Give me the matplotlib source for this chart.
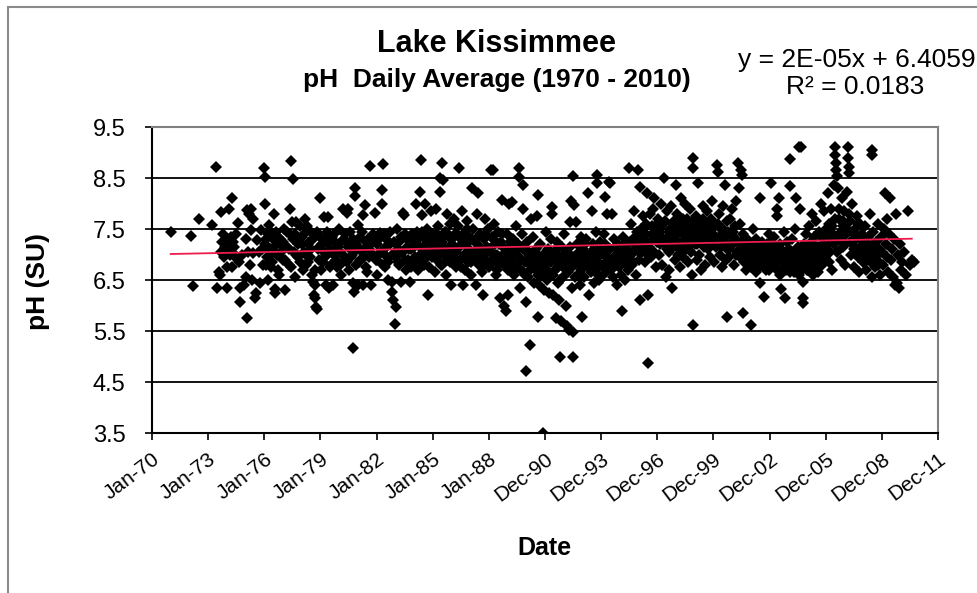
import matplotlib.pyplot as plt
import numpy as np
from matplotlib.patches import Rectangle

plt.rcParams['font.family'] = ['Liberation Sans', 'DejaVu Sans']

tick_years = [1970, 1973, 1976, 1979, 1982, 1985, 1988, 1991, 1994, 1997, 2000, 2003, 2006, 2009, 2012]
tick_labels = ["Jan-70", "Jan-73", "Jan-76", "Jan-79", "Jan-82", "Jan-85", "Jan-88", "Dec-90",
               "Dec-93", "Dec-96", "Dec-99", "Dec-02", "Dec-05", "Dec-08", "Dec-11"]

# (decimal year, pH), grouped by tick interval
ph_70_73 = [(1971.0, 7.45), (1972.07, 7.37), (1972.2, 6.39), (1972.5, 7.69)]

ph_73_76 = [
    (1973.2, 7.58), (1973.4, 8.72), (1973.5, 6.34), (1973.6, 6.66), (1973.65, 6.60), (1973.7, 7.83),
    (1973.7, 7.05), (1973.75, 7.25), (1973.8, 7.40), (1973.85, 6.95), (1973.9, 7.15), (1974.0, 6.75),
    (1974.0, 6.34), (1974.0, 7.30), (1974.05, 7.10), (1974.1, 7.89), (1974.1, 7.20), (1974.15, 7.00),
    (1974.2, 7.35), (1974.25, 6.75), (1974.3, 8.10), (1974.3, 7.05), (1974.35, 7.25), (1974.4, 7.15),
    (1974.45, 6.95), (1974.5, 7.40), (1974.6, 7.62), (1974.65, 6.85), (1974.7, 6.34), (1974.7, 6.07),
    (1974.8, 7.00), (1974.9, 6.40), (1975.0, 7.30), (1975.05, 6.55), (1975.1, 5.75), (1975.1, 7.88),
    (1975.15, 7.05), (1975.2, 7.80), (1975.25, 6.79), (1975.3, 7.90), (1975.3, 7.48), (1975.35, 6.50),
    (1975.4, 7.02), (1975.4, 7.70), (1975.5, 6.15), (1975.55, 6.25), (1975.6, 7.28), (1975.7, 7.05),
    (1975.75, 6.45), (1975.8, 7.48), (1975.9, 7.10), (1975.95, 6.79),
]

ph_76_79 = [
    (1976.0, 8.70), (1976.02, 8.52), (1976.05, 8.00), (1976.1, 7.30), (1976.1, 6.79), (1976.15, 7.10),
    (1976.2, 6.50), (1976.25, 7.58), (1976.3, 7.10), (1976.35, 6.75), (1976.4, 7.43), (1976.5, 7.79),
    (1976.5, 7.28), (1976.55, 6.32), (1976.6, 6.25), (1976.7, 7.00), (1976.75, 7.35), (1976.8, 6.60),
    (1976.9, 7.20), (1977.0, 6.90), (1977.05, 7.50), (1977.1, 6.30), (1977.2, 7.15), (1977.3, 6.80),
    (1977.35, 7.40), (1977.4, 7.90), (1977.45, 8.83), (1977.5, 7.64), (1977.55, 8.49), (1977.6, 7.05),
    (1977.65, 6.55), (1977.7, 7.64), (1977.75, 7.30), (1977.8, 6.95), (1977.9, 7.55), (1978.0, 7.20),
    (1978.05, 6.70), (1978.1, 7.40), (1978.2, 7.70), (1978.25, 7.00), (1978.3, 7.55), (1978.35, 6.85),
    (1978.4, 7.25), (1978.5, 7.45), (1978.55, 6.60), (1978.6, 6.47), (1978.65, 6.20), (1978.7, 6.40),
    (1978.7, 6.15), (1978.75, 5.97), (1978.8, 5.93), (1978.85, 7.10), (1978.9, 6.90),
    (1976.02, 7.20), (1976.12, 6.95), (1976.22, 7.40), (1976.32, 7.00), (1976.42, 6.85), (1976.52, 7.15),
    (1976.62, 7.45), (1976.72, 6.70), (1976.82, 7.30), (1976.92, 7.05), (1977.02, 7.25), (1977.12, 6.90),
    (1977.22, 7.45), (1977.32, 7.10), (1977.42, 6.75), (1977.52, 7.30), (1977.62, 7.40), (1977.72, 7.00),
    (1977.82, 7.20), (1977.92, 6.85), (1978.02, 7.35), (1978.12, 7.05), (1978.22, 6.80), (1978.32, 7.20),
    (1978.42, 6.95), (1978.52, 7.10), (1978.62, 7.30), (1978.72, 6.70), (1978.82, 7.45), (1978.92, 7.15),
]

ph_79_82 = [
    (1979.0, 8.10), (1979.0, 7.35), (1979.05, 6.70), (1979.1, 7.20), (1979.2, 7.73), (1979.25, 6.95),
    (1979.3, 6.40), (1979.35, 7.45), (1979.4, 7.73), (1979.45, 6.35), (1979.5, 7.10), (1979.55, 6.80),
    (1979.6, 7.35), (1979.65, 6.40), (1979.7, 7.00), (1979.8, 7.25), (1979.9, 6.75), (1980.0, 7.50),
    (1980.05, 7.05), (1980.1, 6.60), (1980.2, 7.90), (1980.25, 7.30), (1980.3, 6.90), (1980.4, 7.81),
    (1980.45, 7.15), (1980.5, 7.90), (1980.55, 6.70), (1980.6, 7.45), (1980.7, 7.00), (1980.75, 6.45),
    (1980.76, 5.16), (1980.8, 6.26), (1980.85, 8.30), (1980.85, 8.14), (1980.9, 7.20), (1981.0, 7.58),
    (1981.0, 6.40), (1981.05, 6.85), (1981.1, 7.35), (1981.2, 7.05), (1981.3, 7.77), (1981.3, 6.40),
    (1981.35, 6.95), (1981.4, 7.97), (1981.45, 7.25), (1981.5, 6.65), (1981.6, 7.10), (1981.65, 8.74),
    (1981.7, 6.40), (1981.8, 7.40), (1981.9, 7.81), (1981.95, 6.90),
    (1979.02, 7.10), (1979.12, 6.85), (1979.22, 7.35), (1979.32, 7.00), (1979.42, 7.20), (1979.52, 6.75),
    (1979.62, 7.05), (1979.72, 7.40), (1979.82, 6.90), (1979.92, 7.15), (1980.02, 6.80), (1980.12, 7.25),
    (1980.22, 7.00), (1980.32, 7.40), (1980.42, 6.85), (1980.52, 7.20), (1980.62, 6.95), (1980.72, 7.30),
    (1980.82, 7.05), (1980.92, 6.80), (1981.02, 7.15), (1981.12, 6.90), (1981.22, 7.45), (1981.32, 7.10),
    (1981.42, 6.75), (1981.52, 7.30), (1981.62, 6.95), (1981.72, 7.20), (1981.82, 7.00), (1981.92, 7.35),
]

ph_82_85 = [
    (1982.0, 7.20), (1982.05, 6.60), (1982.1, 7.00), (1982.2, 7.42), (1982.3, 8.26), (1982.3, 8.00),
    (1982.35, 8.77), (1982.4, 7.10), (1982.45, 6.75), (1982.5, 7.30), (1982.55, 6.95), (1982.6, 6.50),
    (1982.7, 7.20), (1982.8, 6.26), (1982.85, 6.46), (1982.9, 6.10), (1982.95, 7.00), (1983.0, 5.63),
    (1983.05, 5.97), (1983.1, 7.51), (1983.15, 6.85), (1983.2, 7.25), (1983.3, 6.46), (1983.35, 7.05),
    (1983.4, 7.82), (1983.45, 7.77), (1983.5, 7.40), (1983.55, 6.70), (1983.6, 7.15), (1983.7, 6.90),
    (1983.75, 7.35), (1983.8, 6.46), (1983.85, 7.10), (1983.9, 6.80), (1984.0, 7.25), (1984.05, 6.95),
    (1984.1, 7.99), (1984.15, 7.45), (1984.2, 6.70), (1984.3, 8.23), (1984.3, 7.15), (1984.35, 6.85),
    (1984.4, 8.85), (1984.45, 7.77), (1984.5, 7.35), (1984.55, 6.90), (1984.6, 7.99), (1984.65, 7.05),
    (1984.7, 7.50), (1984.75, 6.20), (1984.8, 6.75), (1984.85, 7.25), (1984.9, 7.85), (1984.95, 6.95),
    (1982.02, 6.90), (1982.12, 7.30), (1982.22, 7.05), (1982.32, 6.80), (1982.42, 7.40), (1982.52, 7.15),
    (1982.62, 6.85), (1982.72, 7.45), (1982.82, 7.00), (1982.92, 7.25), (1983.02, 6.95), (1983.12, 7.10),
    (1983.22, 6.80), (1983.32, 7.35), (1983.42, 7.05), (1983.52, 6.90), (1983.62, 7.30), (1983.72, 7.10),
    (1983.82, 6.75), (1983.92, 7.40), (1984.02, 7.15), (1984.12, 6.90), (1984.22, 7.30), (1984.32, 7.00),
    (1984.42, 7.45), (1984.52, 6.80), (1984.62, 7.20), (1984.72, 7.05), (1984.82, 7.35), (1984.92, 7.10),
]

ph_85_88 = [
    (1985.0, 7.40), (1985.05, 7.10), (1985.1, 6.65), (1985.15, 7.90), (1985.2, 7.25), (1985.25, 6.90),
    (1985.3, 7.55), (1985.35, 7.00), (1985.4, 8.23), (1985.4, 8.50), (1985.45, 7.30), (1985.5, 8.79),
    (1985.5, 6.80), (1985.55, 8.46), (1985.6, 7.15), (1985.65, 7.45), (1985.7, 6.60), (1985.75, 7.80),
    (1985.8, 7.05), (1985.85, 7.35), (1985.9, 6.85), (1985.95, 7.60), (1986.0, 6.40), (1986.05, 7.20),
    (1986.1, 6.95), (1986.15, 7.70), (1986.2, 7.40), (1986.25, 6.75), (1986.3, 7.10), (1986.35, 7.55),
    (1986.4, 8.70), (1986.45, 6.90), (1986.5, 7.30), (1986.55, 7.85), (1986.6, 6.40), (1986.65, 7.00),
    (1986.7, 7.45), (1986.75, 6.70), (1986.8, 7.20), (1986.85, 7.65), (1986.9, 6.85), (1986.95, 7.35),
    (1987.0, 7.05), (1987.05, 6.60), (1987.1, 8.30), (1987.15, 7.50), (1987.2, 6.95), (1987.25, 7.25),
    (1987.3, 6.40), (1987.35, 7.80), (1987.4, 8.20), (1987.45, 7.10), (1987.5, 6.80), (1987.55, 7.40),
    (1987.6, 7.00), (1987.65, 6.65), (1987.7, 6.20), (1987.75, 7.30), (1987.8, 7.70), (1987.85, 6.90),
    (1987.9, 7.15), (1987.95, 7.50),
    (1985.02, 7.20), (1985.12, 6.95), (1985.22, 7.40), (1985.32, 7.10), (1985.42, 6.80), (1985.52, 7.25),
    (1985.62, 7.00), (1985.72, 7.45), (1985.82, 6.90), (1985.92, 7.15), (1986.02, 7.30), (1986.12, 6.85),
    (1986.22, 7.05), (1986.32, 7.40), (1986.42, 7.15), (1986.52, 6.75), (1986.62, 7.25), (1986.72, 7.00),
    (1986.82, 7.50), (1986.92, 7.10), (1987.02, 6.85), (1987.12, 7.30), (1987.22, 7.05), (1987.32, 6.90),
    (1987.42, 7.35), (1987.52, 7.15), (1987.62, 6.75), (1987.72, 7.00), (1987.82, 7.40), (1987.92, 6.85),
]

ph_88_91 = [
    (1988.0, 6.75), (1988.05, 7.05), (1988.1, 8.66), (1988.15, 7.35), (1988.2, 8.66), (1988.25, 6.90),
    (1988.3, 7.60), (1988.35, 7.20), (1988.4, 6.60), (1988.45, 7.00), (1988.5, 7.45), (1988.55, 6.80),
    (1988.6, 6.15), (1988.65, 7.25), (1988.7, 8.06), (1988.75, 6.95), (1988.8, 6.00), (1988.85, 7.10),
    (1988.9, 5.90), (1988.95, 7.40), (1989.0, 6.20), (1989.05, 6.70), (1989.1, 7.99), (1989.15, 7.15),
    (1989.2, 6.85), (1989.25, 8.03), (1989.3, 7.30), (1989.35, 6.60), (1989.4, 7.05), (1989.45, 7.55),
    (1989.5, 6.75), (1989.55, 7.20), (1989.6, 8.70), (1989.6, 8.52), (1989.65, 6.35), (1989.7, 6.90),
    (1989.75, 7.40), (1989.8, 8.36), (1989.8, 7.90), (1989.85, 6.65), (1989.9, 7.10), (1989.95, 6.85),
    (1990.0, 6.07), (1990.0, 4.72), (1990.05, 7.25), (1990.1, 6.55), (1990.15, 7.00), (1990.2, 5.22),
    (1990.25, 7.70), (1990.3, 6.80), (1990.35, 7.35), (1990.4, 6.45), (1990.45, 7.05), (1990.5, 6.70),
    (1990.55, 7.75), (1990.6, 5.77), (1990.6, 8.17), (1990.65, 6.90), (1990.7, 6.40), (1990.75, 7.20),
    (1990.8, 6.60), (1990.9, 3.50), (1990.9, 7.00), (1990.95, 6.30),
    (1988.02, 7.10), (1988.12, 6.85), (1988.22, 7.30), (1988.32, 7.00), (1988.42, 6.70), (1988.52, 7.20),
    (1988.62, 6.95), (1988.72, 7.40), (1988.82, 6.80), (1988.92, 7.05), (1989.02, 6.90), (1989.12, 7.25),
    (1989.22, 6.65), (1989.32, 7.00), (1989.42, 6.80), (1989.52, 7.15), (1989.62, 6.95), (1989.72, 6.70),
    (1989.82, 7.10), (1989.92, 6.60), (1990.02, 6.85), (1990.12, 7.05), (1990.22, 6.70), (1990.32, 6.95),
    (1990.42, 6.75), (1990.52, 7.10), (1990.62, 6.60), (1990.72, 6.85), (1990.82, 6.70), (1990.92, 6.95),
]

ph_91_94 = [
    (1991.0, 6.80), (1991.05, 7.45), (1991.1, 6.50), (1991.15, 7.10), (1991.2, 6.25), (1991.25, 6.90),
    (1991.3, 7.30), (1991.35, 6.60), (1991.4, 7.93), (1991.4, 7.80), (1991.45, 6.20), (1991.5, 7.00),
    (1991.55, 6.70), (1991.6, 5.76), (1991.65, 7.25), (1991.7, 6.45), (1991.75, 6.10), (1991.8, 4.99),
    (1991.8, 6.95), (1991.85, 5.70), (1991.9, 7.15), (1991.95, 6.55), (1992.0, 7.40), (1992.05, 6.85),
    (1992.1, 6.00), (1992.15, 5.60), (1992.2, 7.05), (1992.25, 6.65), (1992.3, 5.52), (1992.35, 7.64),
    (1992.4, 8.05), (1992.45, 6.35), (1992.5, 8.53), (1992.5, 4.99), (1992.5, 5.48), (1992.55, 7.97),
    (1992.6, 6.90), (1992.65, 7.64), (1992.7, 7.20), (1992.75, 6.60), (1992.8, 7.00), (1992.85, 6.40),
    (1992.9, 7.35), (1992.95, 6.75), (1993.0, 5.77), (1993.05, 7.10), (1993.1, 6.55), (1993.15, 6.85),
    (1993.2, 7.30), (1993.3, 8.20), (1993.35, 6.20), (1993.4, 7.00), (1993.45, 6.65), (1993.5, 7.85),
    (1993.55, 7.20), (1993.6, 6.45), (1993.65, 6.90), (1993.7, 7.45), (1993.75, 6.70), (1993.8, 8.55),
    (1993.8, 8.40), (1993.85, 7.05), (1993.9, 6.50), (1993.95, 7.25),
    (1991.02, 6.95), (1991.12, 6.70), (1991.22, 7.05), (1991.32, 6.85), (1991.42, 6.60), (1991.52, 6.90),
    (1991.62, 7.10), (1991.72, 6.75), (1991.82, 6.50), (1991.92, 6.85), (1992.02, 7.00), (1992.12, 6.70),
    (1992.22, 6.90), (1992.32, 7.15), (1992.42, 6.75), (1992.52, 6.95), (1992.62, 6.55), (1992.72, 6.85),
    (1992.82, 7.05), (1992.92, 6.70), (1993.02, 6.95), (1993.12, 7.20), (1993.22, 6.80), (1993.32, 7.00),
    (1993.42, 6.75), (1993.52, 6.95), (1993.62, 7.10), (1993.72, 6.85), (1993.82, 6.60), (1993.92, 7.00),
]

ph_94_97 = [
    (1994.0, 6.80), (1994.05, 7.15), (1994.1, 6.60), (1994.15, 7.40), (1994.2, 8.13), (1994.25, 6.95),
    (1994.3, 7.80), (1994.35, 6.70), (1994.4, 8.42), (1994.45, 8.40), (1994.5, 7.10), (1994.55, 6.85),
    (1994.6, 7.80), (1994.65, 6.55), (1994.7, 7.30), (1994.75, 6.90), (1994.8, 7.00), (1994.85, 6.40),
    (1994.9, 7.20), (1994.95, 6.75), (1995.0, 7.05), (1995.05, 6.60), (1995.1, 5.90), (1995.15, 7.35),
    (1995.2, 6.85), (1995.25, 7.10), (1995.3, 6.50), (1995.35, 6.95), (1995.4, 7.25), (1995.45, 6.70),
    (1995.5, 8.70), (1995.55, 7.00), (1995.6, 7.60), (1995.65, 6.80), (1995.7, 7.30), (1995.75, 7.85),
    (1995.8, 7.10), (1995.85, 6.60), (1995.9, 7.45), (1995.95, 8.66), (1996.0, 7.20), (1996.05, 6.90),
    (1996.1, 8.33), (1996.1, 6.10), (1996.15, 7.50), (1996.2, 7.05), (1996.25, 7.75), (1996.3, 7.30),
    (1996.35, 6.85), (1996.4, 7.60), (1996.45, 8.20), (1996.5, 4.87), (1996.5, 6.20), (1996.55, 7.15),
    (1996.6, 7.80), (1996.65, 6.95), (1996.7, 7.40), (1996.75, 7.90), (1996.8, 7.05), (1996.85, 8.10),
    (1996.9, 7.55), (1996.95, 6.75),
    (1994.02, 7.05), (1994.12, 6.80), (1994.22, 7.20), (1994.32, 6.95), (1994.42, 7.10), (1994.52, 6.70),
    (1994.62, 6.90), (1994.72, 7.15), (1994.82, 6.80), (1994.92, 7.00), (1995.02, 6.85), (1995.12, 7.15),
    (1995.22, 6.95), (1995.32, 7.10), (1995.42, 6.80), (1995.52, 7.25), (1995.62, 7.00), (1995.72, 6.85),
    (1995.82, 7.20), (1995.92, 7.35), (1996.02, 7.05), (1996.12, 7.30), (1996.22, 7.50), (1996.32, 7.15),
    (1996.42, 7.40), (1996.52, 7.00), (1996.62, 7.25), (1996.72, 7.55), (1996.82, 7.30), (1996.92, 7.45),
]

ph_97_00 = [
    (1997.0, 7.25), (1997.05, 7.70), (1997.1, 7.00), (1997.15, 7.45), (1997.2, 8.00), (1997.25, 6.80),
    (1997.3, 7.60), (1997.35, 8.50), (1997.4, 7.20), (1997.45, 6.55), (1997.5, 7.85), (1997.55, 7.35),
    (1997.6, 7.05), (1997.65, 6.70), (1997.7, 7.50), (1997.75, 7.95), (1997.8, 6.34), (1997.85, 7.15),
    (1997.9, 7.65), (1997.95, 6.90), (1998.0, 7.40), (1998.0, 8.36), (1998.05, 7.80), (1998.1, 7.00),
    (1998.15, 7.55), (1998.2, 6.75), (1998.25, 8.10), (1998.3, 7.25), (1998.35, 7.70), (1998.4, 6.95),
    (1998.45, 7.45), (1998.5, 8.00), (1998.55, 7.10), (1998.6, 7.60), (1998.65, 6.85), (1998.7, 7.35),
    (1998.75, 7.90), (1998.8, 7.05), (1998.85, 6.60), (1998.9, 8.90), (1998.9, 8.70), (1998.9, 5.62),
    (1998.95, 7.50), (1999.0, 7.20), (1999.05, 7.75), (1999.1, 6.90), (1999.15, 7.40), (1999.2, 8.40),
    (1999.25, 7.00), (1999.3, 7.65), (1999.35, 6.70), (1999.4, 7.30), (1999.45, 7.95), (1999.5, 7.15),
    (1999.55, 6.80), (1999.6, 7.55), (1999.65, 7.85), (1999.7, 7.10), (1999.75, 7.45), (1999.8, 6.95),
    (1999.85, 7.70), (1999.9, 7.25), (1999.95, 8.05),
    (1997.02, 7.40), (1997.12, 7.20), (1997.22, 7.55), (1997.32, 7.30), (1997.42, 7.65), (1997.52, 7.10),
    (1997.62, 7.45), (1997.72, 7.25), (1997.82, 7.60), (1997.92, 7.35), (1998.02, 7.55), (1998.12, 7.25),
    (1998.22, 7.45), (1998.32, 7.05), (1998.42, 7.60), (1998.52, 7.35), (1998.62, 7.15), (1998.72, 7.50),
    (1998.82, 7.30), (1998.92, 7.65), (1999.02, 7.40), (1999.12, 7.20), (1999.22, 7.55), (1999.32, 7.35),
    (1999.42, 7.70), (1999.52, 7.45), (1999.62, 7.25), (1999.72, 7.60), (1999.82, 7.35), (1999.92, 7.50),
    (1997.07, 7.50), (1997.57, 7.35), (1998.07, 7.15), (1998.57, 7.70), (1999.07, 7.60), (1999.57, 7.20),
    (1999.97, 7.30),
]

ph_00_03 = [
    (2000.0, 7.40), (2000.05, 6.85), (2000.1, 7.60), (2000.15, 7.15), (2000.2, 8.76), (2000.25, 8.62),
    (2000.3, 7.80), (2000.35, 7.00), (2000.4, 7.50), (2000.45, 6.75), (2000.5, 7.95), (2000.55, 7.30),
    (2000.6, 8.36), (2000.65, 6.89), (2000.7, 5.77), (2000.7, 7.65), (2000.75, 7.10), (2000.8, 7.45),
    (2000.85, 6.95), (2000.9, 7.70), (2000.95, 7.20), (2001.0, 7.90), (2001.05, 7.35), (2001.1, 6.80),
    (2001.15, 7.55), (2001.2, 8.05), (2001.25, 7.05), (2001.3, 8.80), (2001.35, 8.30), (2001.4, 7.60),
    (2001.45, 8.65), (2001.5, 7.25), (2001.55, 8.55), (2001.6, 5.85), (2001.6, 7.40), (2001.65, 6.95),
    (2001.7, 7.10), (2001.75, 6.70), (2001.8, 7.30), (2001.85, 7.00), (2001.9, 6.85), (2001.95, 7.20),
    (2002.0, 5.62), (2002.0, 6.75), (2002.05, 7.05), (2002.1, 7.50), (2002.15, 6.90), (2002.2, 7.15),
    (2002.25, 6.65), (2002.3, 7.30), (2002.35, 6.95), (2002.4, 7.10), (2002.45, 6.80), (2002.5, 6.44),
    (2002.5, 8.10), (2002.55, 7.00), (2002.6, 7.25), (2002.65, 6.85), (2002.7, 6.17), (2002.75, 7.05),
    (2002.8, 6.70), (2002.85, 7.20), (2002.9, 6.90), (2002.95, 7.40),
    (2000.02, 7.55), (2000.12, 7.30), (2000.22, 7.60), (2000.32, 7.35), (2000.42, 7.15), (2000.52, 7.50),
    (2000.62, 7.25), (2000.72, 7.40), (2000.82, 7.10), (2000.92, 7.45), (2001.02, 7.20), (2001.12, 7.35),
    (2001.22, 7.00), (2001.32, 7.25), (2001.42, 6.95), (2001.52, 7.10), (2001.62, 6.85), (2001.72, 7.15),
    (2001.82, 6.90), (2001.92, 7.05), (2002.02, 6.95), (2002.12, 7.20), (2002.22, 6.85), (2002.32, 7.05),
    (2002.42, 6.75), (2002.52, 7.00), (2002.62, 6.80), (2002.72, 7.10), (2002.82, 6.90), (2002.92, 7.05),
    (2001.07, 7.45), (2001.57, 7.20), (2002.07, 6.80), (2002.57, 6.95), (2002.97, 6.70),
]

ph_03_06 = [
    (2003.0, 7.00), (2003.05, 6.80), (2003.1, 8.40), (2003.15, 7.15), (2003.2, 6.95), (2003.25, 7.35),
    (2003.3, 6.75), (2003.35, 7.10), (2003.4, 7.90), (2003.4, 7.75), (2003.45, 6.90), (2003.5, 8.10),
    (2003.55, 7.20), (2003.6, 6.33), (2003.65, 7.05), (2003.7, 6.85), (2003.75, 7.45), (2003.8, 6.15),
    (2003.85, 7.00), (2003.9, 6.70), (2003.95, 7.25), (2004.0, 6.95), (2004.05, 7.10), (2004.1, 8.88),
    (2004.1, 8.35), (2004.15, 6.80), (2004.2, 7.30), (2004.25, 7.00), (2004.3, 6.65), (2004.35, 7.50),
    (2004.4, 8.10), (2004.45, 6.90), (2004.5, 7.15), (2004.55, 9.10), (2004.6, 7.90), (2004.65, 6.75),
    (2004.7, 9.11), (2004.7, 7.05), (2004.75, 6.85), (2004.8, 6.46), (2004.8, 6.15), (2004.8, 6.05),
    (2004.85, 7.20), (2004.9, 6.95), (2004.95, 7.40), (2005.0, 6.70), (2005.05, 7.10), (2005.1, 7.55),
    (2005.15, 6.85), (2005.2, 7.25), (2005.25, 7.80), (2005.3, 6.60), (2005.35, 7.00), (2005.4, 7.35),
    (2005.45, 6.90), (2005.5, 7.65), (2005.55, 7.15), (2005.6, 6.75), (2005.65, 7.45), (2005.7, 7.05),
    (2005.75, 8.00), (2005.8, 6.80), (2005.85, 7.30), (2005.9, 7.85), (2005.95, 6.95),
    (2003.02, 6.90), (2003.12, 7.05), (2003.22, 6.80), (2003.32, 7.00), (2003.42, 6.70), (2003.52, 6.95),
    (2003.62, 7.10), (2003.72, 6.75), (2003.82, 6.95), (2003.92, 6.85), (2004.02, 7.05), (2004.12, 6.90),
    (2004.22, 6.75), (2004.32, 7.00), (2004.42, 6.85), (2004.52, 7.05), (2004.62, 6.90), (2004.72, 6.70),
    (2004.82, 7.00), (2004.92, 6.80), (2005.02, 6.95), (2005.12, 7.10), (2005.22, 6.85), (2005.32, 7.00),
    (2005.42, 6.75), (2005.52, 6.95), (2005.62, 7.15), (2005.72, 6.85), (2005.82, 7.05), (2005.92, 6.90),
    (2003.07, 7.25), (2003.57, 6.60), (2004.07, 6.65), (2004.57, 6.60), (2005.07, 6.70), (2005.57, 6.65),
    (2005.97, 7.20),
]

ph_06_09 = [
    (2006.0, 7.50), (2006.05, 7.10), (2006.1, 8.20), (2006.15, 6.85), (2006.2, 7.60), (2006.25, 7.25),
    (2006.3, 7.90), (2006.35, 6.70), (2006.4, 7.40), (2006.45, 8.36), (2006.5, 9.10), (2006.5, 8.95),
    (2006.55, 8.79), (2006.55, 8.66), (2006.6, 8.53), (2006.6, 7.05), (2006.65, 8.30), (2006.7, 7.70),
    (2006.75, 7.30), (2006.8, 6.90), (2006.85, 8.10), (2006.9, 7.55), (2006.95, 7.15), (2007.0, 7.85),
    (2007.05, 6.80), (2007.1, 7.40), (2007.15, 8.22), (2007.2, 9.10), (2007.2, 8.89), (2007.25, 8.72),
    (2007.25, 8.59), (2007.3, 7.65), (2007.35, 7.00), (2007.4, 8.00), (2007.45, 7.25), (2007.5, 6.75),
    (2007.55, 7.50), (2007.6, 7.10), (2007.65, 7.75), (2007.7, 6.95), (2007.75, 7.35), (2007.8, 6.65),
    (2007.85, 7.60), (2007.9, 7.05), (2007.95, 7.40), (2008.0, 6.85), (2008.05, 7.20), (2008.1, 7.55),
    (2008.15, 6.70), (2008.2, 7.05), (2008.25, 7.35), (2008.3, 6.90), (2008.35, 7.80), (2008.4, 7.15),
    (2008.45, 6.55), (2008.5, 9.05), (2008.5, 8.95), (2008.55, 7.45), (2008.6, 7.00), (2008.65, 6.75),
    (2008.7, 7.25), (2008.75, 6.90), (2008.8, 7.60), (2008.85, 7.10), (2008.9, 6.60), (2008.95, 7.35),
    (2006.02, 7.25), (2006.12, 7.40), (2006.22, 7.05), (2006.32, 7.55), (2006.42, 7.20), (2006.52, 7.70),
    (2006.62, 7.35), (2006.72, 7.90), (2006.82, 7.45), (2006.92, 7.65), (2007.02, 7.20), (2007.12, 7.50),
    (2007.22, 7.80), (2007.32, 7.25), (2007.42, 7.45), (2007.52, 7.10), (2007.62, 7.35), (2007.72, 7.60),
    (2007.82, 7.15), (2007.92, 7.30), (2008.02, 7.00), (2008.12, 7.25), (2008.22, 6.90), (2008.32, 7.15),
    (2008.42, 6.85), (2008.52, 7.20), (2008.62, 6.95), (2008.72, 7.10), (2008.82, 6.80), (2008.92, 7.05),
]

ph_09_11 = [
    (2009.0, 7.05), (2009.05, 6.80), (2009.1, 7.50), (2009.15, 8.20), (2009.2, 7.20), (2009.25, 6.95),
    (2009.3, 7.70), (2009.35, 6.65), (2009.4, 7.40), (2009.45, 8.10), (2009.5, 6.90), (2009.55, 7.10),
    (2009.6, 6.55), (2009.65, 7.30), (2009.7, 6.40), (2009.75, 7.80), (2009.8, 6.45), (2009.85, 7.00),
    (2009.9, 6.35), (2009.95, 7.20), (2010.0, 6.70), (2010.1, 6.85), (2010.2, 7.05), (2010.3, 6.60),
    (2010.4, 7.85), (2010.5, 6.80), (2010.6, 6.90), (2010.7, 6.85),
]

# Excel linear trendline, end points
trend_years = [1971.0, 2010.6]
trend_ph = [7.01, 7.31]

points = (ph_70_73 + ph_73_76 + ph_76_79 + ph_79_82 + ph_82_85 + ph_85_88 + ph_88_91
          + ph_91_94 + ph_94_97 + ph_97_00 + ph_00_03 + ph_03_06 + ph_06_09 + ph_09_11)
years = np.array([p[0] for p in points])
ph = np.array([p[1] for p in points])

fig = plt.figure(figsize=(9.78, 5.93), dpi=100)
fig.patches.append(Rectangle((0.008, -0.05), 1.2, 1.038, transform=fig.transFigure,
                             fill=False, edgecolor='#8a8a8a', lw=1.5))

ax = fig.add_axes([0.1554, 0.2698, 0.8037, 0.516])
for v in [4.5, 5.5, 6.5, 7.5, 8.5]:
    ax.axhline(v, color='black', lw=1.3, zorder=1)
ax.plot(years, ph, linestyle='none', marker='D', color='black', markersize=5.7,
        markeredgewidth=0, zorder=3)
ax.plot(trend_years, trend_ph, color='#ee1c4e', lw=1.3, zorder=4)

ax.set_xlim(1970, 2012)
ax.set_ylim(3.5, 9.5)
ax.set_yticks([3.5, 4.5, 5.5, 6.5, 7.5, 8.5, 9.5])
ax.set_yticklabels(["3.5", "4.5", "5.5", "6.5", "7.5", "8.5", "9.5"], fontsize=17)
ax.set_xticks(tick_years)
ax.set_xticklabels(tick_labels, rotation=37, ha='right', rotation_mode='anchor', fontsize=15)
ax.tick_params(axis='both', direction='out', length=5, width=1.2, colors='black')
ax.tick_params(axis='x', pad=7)
ax.tick_params(axis='y', pad=14)

for side in ['left', 'bottom']:
    ax.spines[side].set_linewidth(1.5)
    ax.spines[side].set_color('black')
for side in ['top', 'right']:
    ax.spines[side].set_linewidth(1.5)
    ax.spines[side].set_color('#808080')

fig.text(0.508, 0.925, "Lake Kissimmee", ha='center', va='center', fontsize=22, fontweight='bold')
fig.text(0.508, 0.865, "pH  Daily Average (1970 - 2010)", ha='center', va='center', fontsize=19,
         fontweight='bold')
fig.text(0.755, 0.898, "y = 2E-05x + 6.4059", ha='left', va='center', fontsize=19)
fig.text(0.874, 0.853, "R² = 0.0183", ha='center', va='center', fontsize=19)

fig.text(0.039, 0.525, "pH (SU)", ha='center', va='center', rotation=90, fontsize=19,
         fontweight='bold')
fig.text(0.557, 0.076, "Date", ha='center', va='center', fontsize=18, fontweight='bold')

fig.savefig("out.png", dpi=100)
